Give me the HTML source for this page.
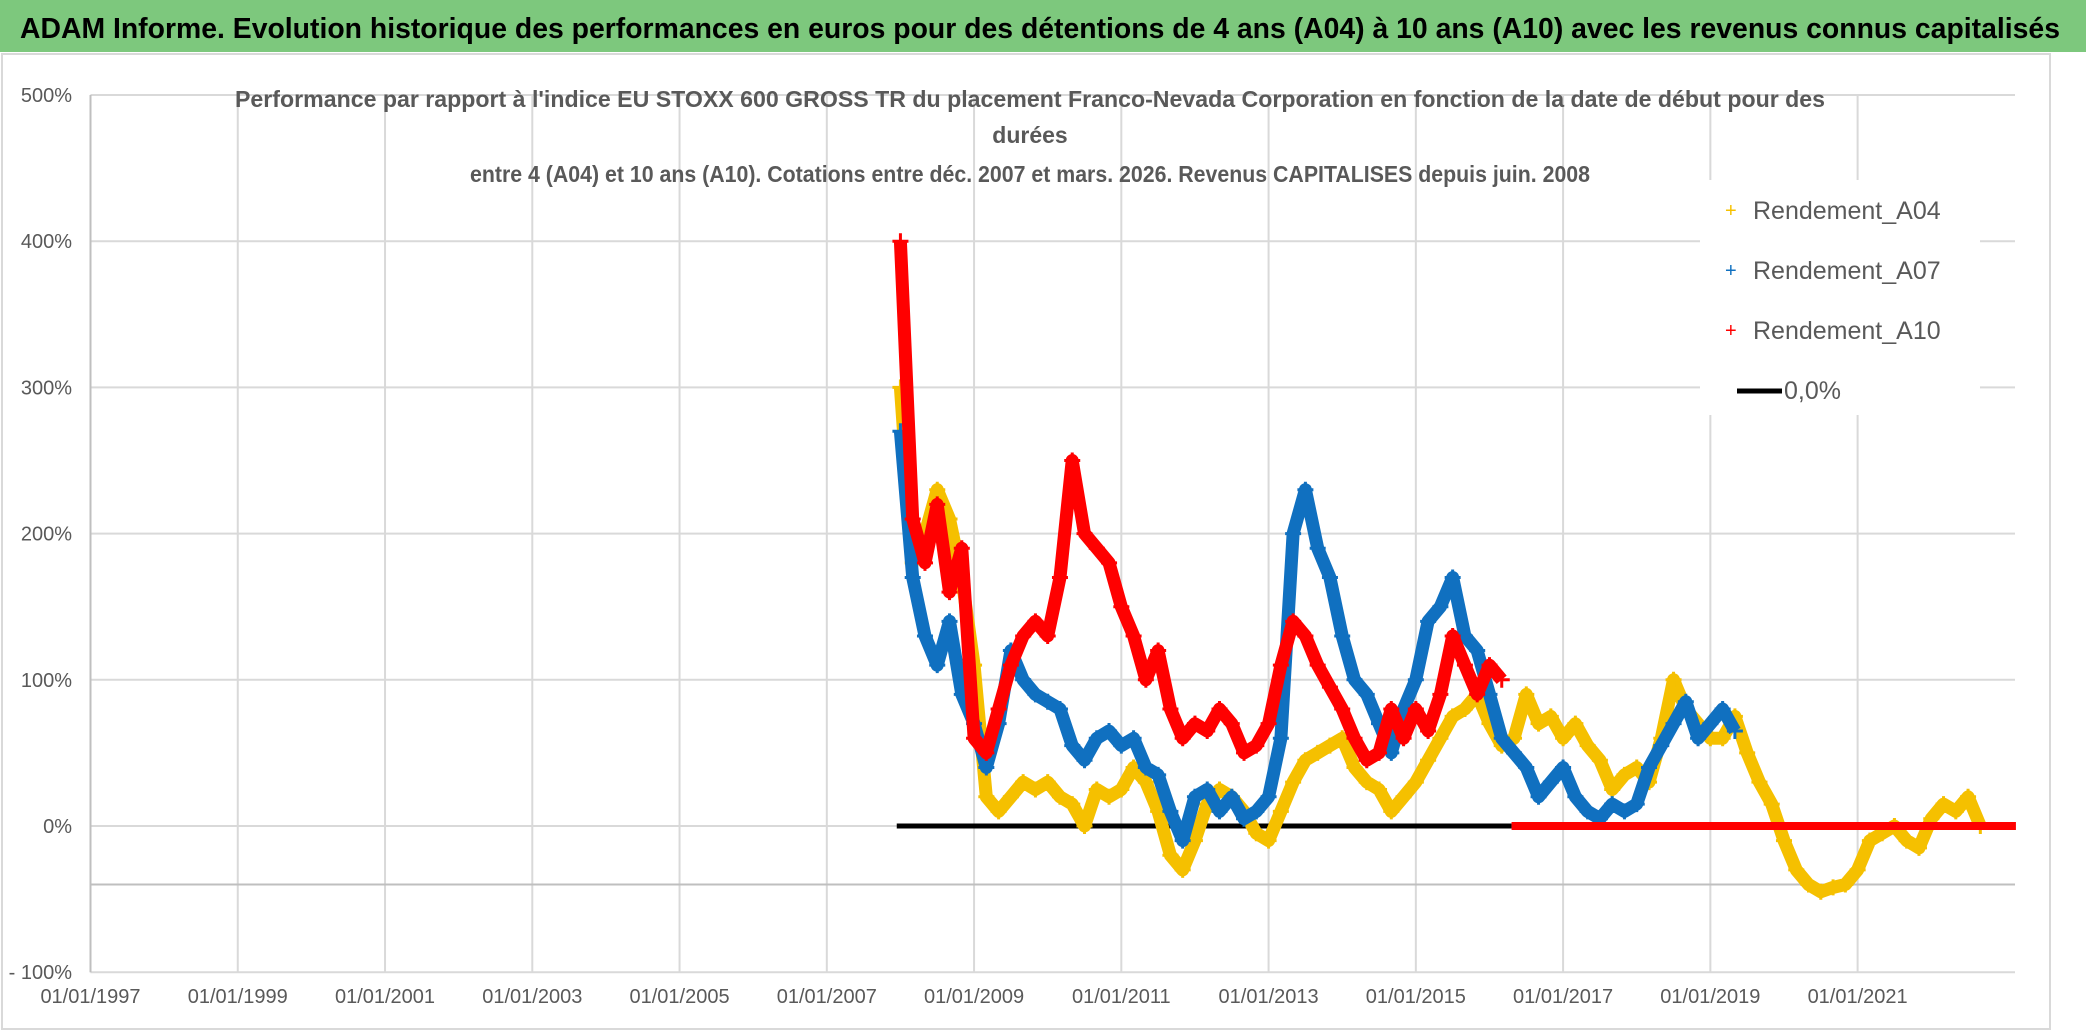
<!DOCTYPE html>
<html><head><meta charset="utf-8"><style>
html,body{margin:0;padding:0;background:#fff;}
svg{display:block;font-family:"Liberation Sans",sans-serif;}
</style></head><body>
<svg id="chart" width="2086" height="1031" viewBox="0 0 2086 1031" xmlns="http://www.w3.org/2000/svg">
<rect x="0" y="0" width="2086" height="1031" fill="#fff"/>
<rect x="0" y="0" width="2086" height="52" fill="#7dc87d"/>
<text x="1040" y="38" text-anchor="middle" font-size="29" font-weight="bold" fill="#000" textLength="2040" lengthAdjust="spacingAndGlyphs">ADAM Informe. Evolution historique des performances en euros pour des détentions de 4 ans (A04) à 10 ans (A10) avec les revenus connus capitalisés</text>
<rect x="2" y="54" width="2048" height="975" fill="none" stroke="#d9d9d9" stroke-width="2"/>
<g id="grid"></g>
<g id="series"></g>
<text x="1030" y="107" text-anchor="middle" font-size="23" font-weight="bold" fill="#595959" textLength="1590" lengthAdjust="spacingAndGlyphs">Performance par rapport à l'indice EU STOXX 600 GROSS TR  du placement Franco-Nevada Corporation en fonction de la date de début pour des</text>
<text x="1030" y="143" text-anchor="middle" font-size="23" font-weight="bold" fill="#595959">durées</text>
<text x="1030" y="182" text-anchor="middle" font-size="23" font-weight="bold" fill="#595959" textLength="1120" lengthAdjust="spacingAndGlyphs">entre 4 (A04) et 10 ans (A10). Cotations entre déc. 2007 et mars. 2026. Revenus CAPITALISES depuis juin. 2008</text>
<g id="legend">
<rect x="1700" y="180" width="280" height="235" fill="#fff"/>
<text x="1725" y="217" font-size="20" fill="#f5c000">+</text>
<text x="1753" y="219" font-size="25" fill="#595959">Rendement_A04</text>
<text x="1725" y="277" font-size="20" fill="#1070c0">+</text>
<text x="1753" y="279" font-size="25" fill="#595959">Rendement_A07</text>
<text x="1725" y="337" font-size="20" fill="#ff0000">+</text>
<text x="1753" y="339" font-size="25" fill="#595959">Rendement_A10</text>
<line x1="1737" y1="391" x2="1782" y2="391" stroke="#000" stroke-width="5"/>
<text x="1784" y="399" font-size="25" fill="#595959">0,0%</text>
</g>
</svg>
<script>
const yTicks = [500, 400, 300, 200, 100, 0, -100];
const yTickLabels = ["500%", "400%", "300%", "200%", "100%", "0%", "- 100%"];
const xTickYears = [1997, 1999, 2001, 2003, 2005, 2007, 2009, 2011, 2013, 2015, 2017, 2019, 2021];
const xTickLabels = ["01/01/1997","01/01/1999","01/01/2001","01/01/2003","01/01/2005","01/01/2007","01/01/2009","01/01/2011","01/01/2013","01/01/2015","01/01/2017","01/01/2019","01/01/2021"];
const seriesStart = 2008.0;
const seriesStep = 1/6;
const a04 = [300,180,200,230,210,170,110,20,10,20,30,25,30,20,15,0,25,20,25,40,30,10,-20,-30,-10,15,25,20,10,-5,-10,10,30,45,50,55,60,40,30,25,10,20,30,45,60,75,80,90,70,55,60,90,70,75,60,70,55,45,25,35,40,30,60,100,80,70,60,60,75,50,30,15,-10,-30,-40,-45,-42,-40,-30,-10,-5,0,-10,-15,5,15,10,20,0];
const a07 = [270,170,130,110,140,90,70,40,70,120,100,90,85,80,55,45,60,65,55,60,40,35,10,-10,20,25,10,20,5,10,20,60,200,230,190,170,130,100,90,70,50,80,100,140,150,170,130,120,90,60,50,40,20,30,40,20,10,5,15,10,15,40,55,70,85,60,70,80,65];
const a10 = [400,210,180,220,160,190,60,50,80,110,130,140,130,170,250,200,190,180,150,130,100,120,80,60,70,65,80,70,50,55,70,110,140,130,110,95,80,60,45,50,80,60,80,65,90,130,110,90,110,100];
const zeroLineStart = 2007.95, zeroLineEnd = 2016.3;
const a10ZeroStart = 2016.3, a10ZeroEnd = 2023.15;

const X0 = 90.5, PX_PER_YEAR = 73.63;
const Y0 = 826, PX_PER_PCT = 1.462;
const xs = y => X0 + (y - 1997) * PX_PER_YEAR;
const ys = v => Y0 - v * PX_PER_PCT;
const NS = "http://www.w3.org/2000/svg";
function mk(tag, attrs, parent){const e=document.createElementNS(NS,tag);for(const k in attrs)e.setAttribute(k,attrs[k]);parent.appendChild(e);return e;}
const grid = document.getElementById('grid');
const plotR = 2015, plotTop = ys(500), plotBot = ys(-100);
xTickYears.forEach((yr,i)=>{
  const l = mk('line',{x1:xs(yr),x2:xs(yr),y1:plotTop,y2:plotBot,stroke:'#d9d9d9','stroke-width':2},grid);
  
  
  const t = mk('text',{x:xs(yr),y:1003,'text-anchor':'middle','font-size':20,fill:'#595959'},grid);
  t.textContent = xTickLabels[i];
  
  
});
yTicks.forEach((v,i)=>{
  if(v>-100){
    const l = mk('line',{x1:xs(1997),x2:plotR,y1:ys(v),y2:ys(v),stroke:'#d9d9d9','stroke-width':2},grid);
    
    
  }
  const t = mk('text',{x:72,y:ys(v)+7,'text-anchor':'end','font-size':20,fill:'#595959'},grid);
  t.textContent = yTickLabels[i];
  
  
});
const ax1 = mk('line',{x1:xs(1997),x2:plotR,y1:ys(-40),y2:ys(-40),stroke:'#bfbfbf','stroke-width':2},grid);


const ax2 = mk('line',{x1:xs(1997),x2:plotR,y1:plotBot,y2:plotBot,stroke:'#d9d9d9','stroke-width':2},grid);


const ax3 = mk('line',{x1:xs(1997),x2:xs(1997),y1:plotTop,y2:plotBot,stroke:'#bfbfbf','stroke-width':2},grid);



const sg = document.getElementById('series');
const zl = mk('line',{x1:xs(zeroLineStart),x2:xs(zeroLineEnd),y1:ys(0),y2:ys(0),stroke:'#000','stroke-width':5},sg);


function drawSeries(vals,color,name){
  const g = mk('g',{},sg);
  
  
  const pts = vals.map((v,i)=>xs(seriesStart+i*seriesStep).toFixed(1)+','+ys(v).toFixed(1)).join(' ');
  const pl = mk('polyline',{points:pts,fill:'none',stroke:color,'stroke-width':13,'stroke-linejoin':'round'},g);
  
  
  vals.forEach((v,i)=>{
    const x = xs(seriesStart+i*seriesStep), y = ys(v);
    const p = mk('path',{d:`M${x-8},${y}H${x+8}M${x},${y-8}V${y+8}`,stroke:color,'stroke-width':3},g);
    
    
  });
}
drawSeries(a04,'#f5c000','series-a04');
drawSeries(a07,'#1070c0','series-a07');
drawSeries(a10,'#ff0000','series-a10');
const rz = mk('line',{x1:xs(a10ZeroStart),x2:xs(a10ZeroEnd),y1:ys(0),y2:ys(0),stroke:'#ff0000','stroke-width':8},sg);


</script>
</body></html>
